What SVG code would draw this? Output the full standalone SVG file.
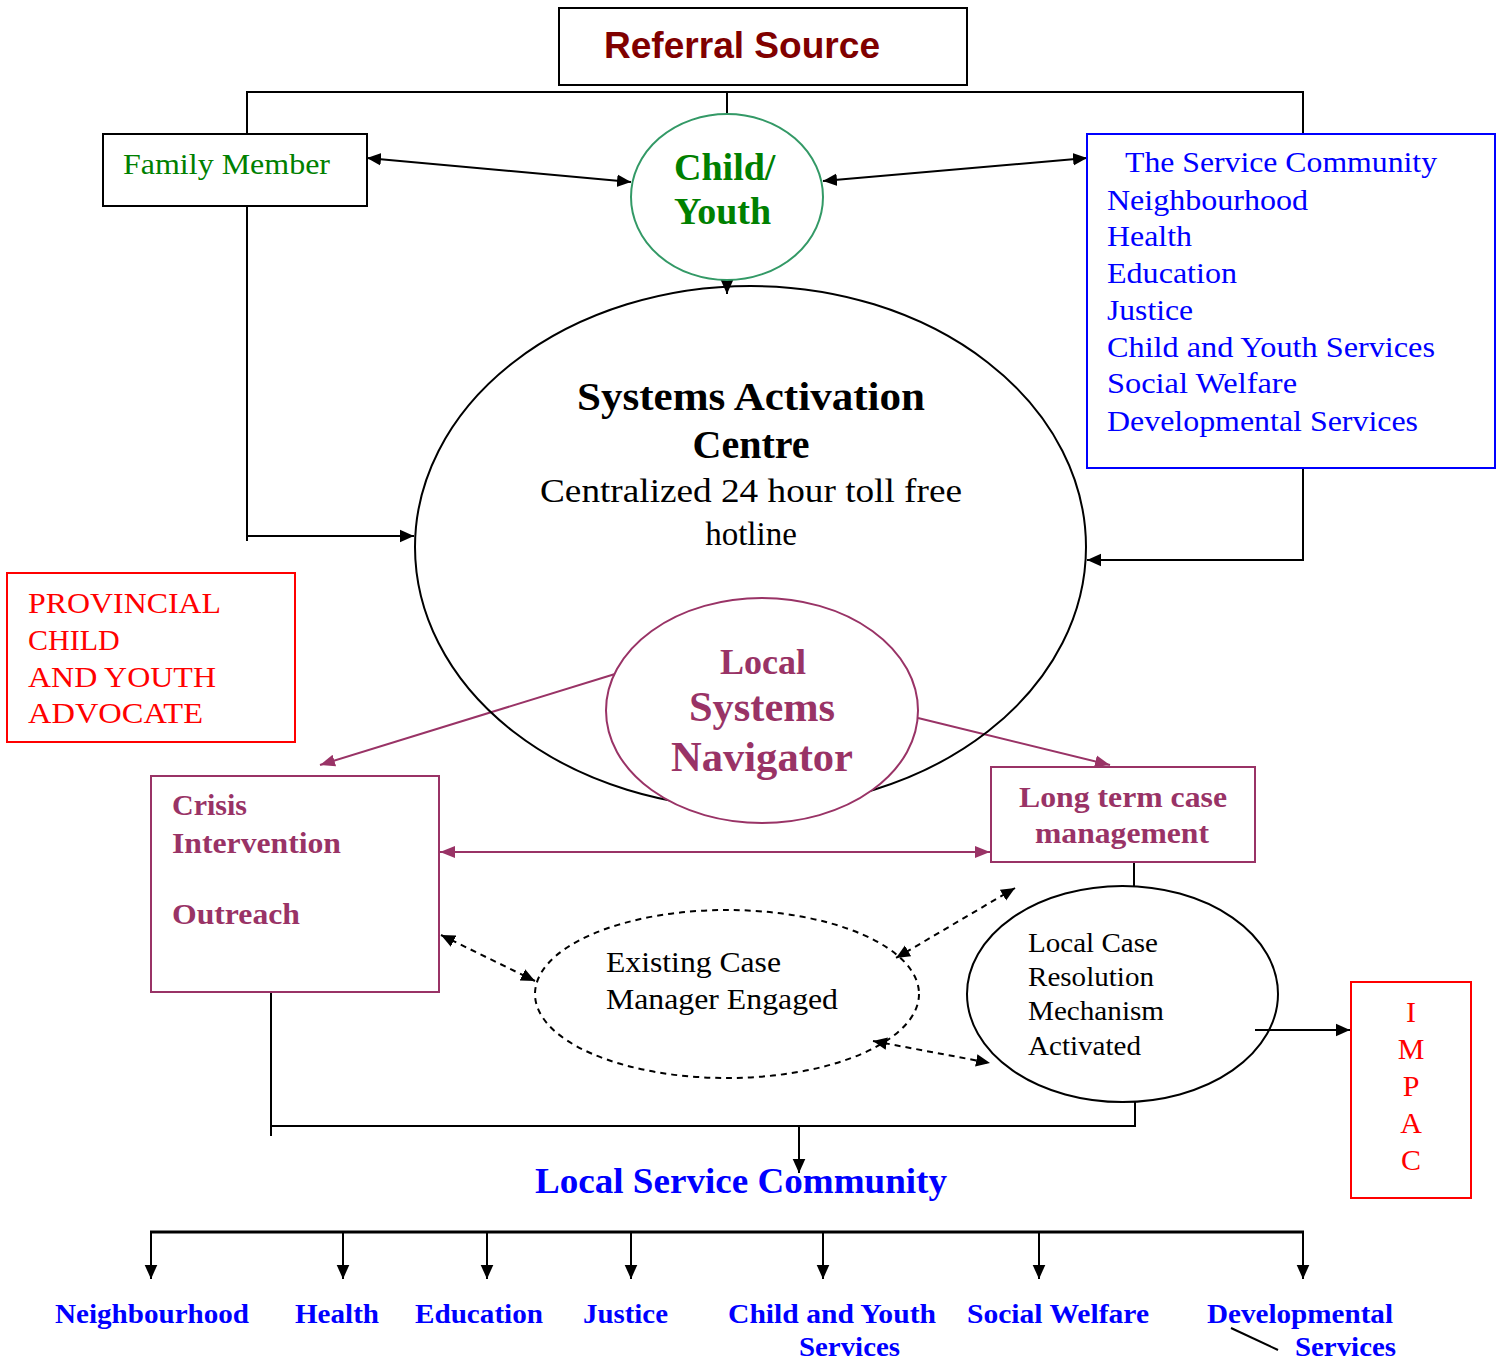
<svg xmlns="http://www.w3.org/2000/svg" width="1502" height="1361" viewBox="0 0 1502 1361">
<defs>
<marker id="ak" viewBox="0 0 10 10" refX="10" refY="5" markerWidth="14" markerHeight="14" markerUnits="userSpaceOnUse" orient="auto-start-reverse"><path d="M0,0.5 L10,5 L0,9.5 z" fill="#000"/></marker>
<marker id="ap" viewBox="0 0 10 10" refX="10" refY="5" markerWidth="15" markerHeight="15" markerUnits="userSpaceOnUse" orient="auto-start-reverse"><path d="M0,1 L10,5 L0,9 z" fill="#993366"/></marker>
<style>
.s{font-family:"Liberation Serif","Times New Roman",serif}
.b{font-weight:bold}
.blk{fill:#000}
.grn{fill:#008000}
.blu{fill:#0000ff}
.red{fill:#ff0000}
.pur{fill:#993366}
.ln{fill:none;stroke:#000;stroke-width:2}
.lp{fill:none;stroke:#993366;stroke-width:2}
.dash{fill:none;stroke:#000;stroke-width:2;stroke-dasharray:6,5}
</style>
</defs>
<rect width="1502" height="1361" fill="#fff"/>

<g id="connectors">
<polyline class="ln" points="247,140 247,92 1303,92 1303,140"/>
<line class="ln" x1="727" y1="92" x2="727" y2="123"/>
<line class="ln" x1="727" y1="272" x2="727" y2="294" marker-end="url(#ak)"/>
<line class="ln" x1="367" y1="158" x2="631" y2="182" marker-start="url(#ak)" marker-end="url(#ak)"/>
<line class="ln" x1="823" y1="181" x2="1087" y2="158" marker-start="url(#ak)" marker-end="url(#ak)"/>
<polyline class="ln" points="247,206 247,541"/>
<line class="ln" x1="246" y1="536" x2="414" y2="536" marker-end="url(#ak)"/>
<polyline class="ln" points="1303,465 1303,560 1087,560" marker-end="url(#ak)"/>
<line class="lp" x1="615" y1="674" x2="320" y2="765" marker-end="url(#ap)"/>
<line class="lp" x1="918" y1="718" x2="1110" y2="765" marker-end="url(#ap)"/>
<line class="lp" x1="440" y1="852" x2="990" y2="852" marker-start="url(#ap)" marker-end="url(#ap)"/>
<line class="ln" x1="1134" y1="862" x2="1134" y2="887"/>
<line class="dash" x1="441" y1="935" x2="535" y2="981" marker-start="url(#ak)" marker-end="url(#ak)"/>
<line class="dash" x1="1015" y1="888" x2="896" y2="958" marker-start="url(#ak)" marker-end="url(#ak)"/>
<line class="dash" x1="873" y1="1041" x2="990" y2="1063" marker-start="url(#ak)" marker-end="url(#ak)"/>
<line class="ln" x1="1255" y1="1030" x2="1350" y2="1030" marker-end="url(#ak)"/>
<polyline class="ln" points="271,992 271,1136"/>
<polyline class="ln" points="271,1126 1135,1126 1135,1102"/>
<line class="ln" x1="799" y1="1126" x2="799" y2="1173" marker-end="url(#ak)"/>
<line fill="none" stroke="#000" stroke-width="3" x1="150" y1="1232" x2="1304" y2="1232"/>
<line class="ln" x1="151" y1="1232" x2="151" y2="1279" marker-end="url(#ak)"/>
<line class="ln" x1="343" y1="1232" x2="343" y2="1279" marker-end="url(#ak)"/>
<line class="ln" x1="487" y1="1232" x2="487" y2="1279" marker-end="url(#ak)"/>
<line class="ln" x1="631" y1="1232" x2="631" y2="1279" marker-end="url(#ak)"/>
<line class="ln" x1="823" y1="1232" x2="823" y2="1279" marker-end="url(#ak)"/>
<line class="ln" x1="1039" y1="1232" x2="1039" y2="1279" marker-end="url(#ak)"/>
<line class="ln" x1="1303" y1="1232" x2="1303" y2="1279" marker-end="url(#ak)"/>
<line class="ln" x1="1231" y1="1328" x2="1278" y2="1350"/>
</g>

<g id="referral">
<rect x="559" y="8" width="408" height="77" fill="#fff" stroke="#000" stroke-width="2"/>
<text x="742" y="58" text-anchor="middle" font-family="Liberation Sans, Arial, sans-serif" font-weight="bold" font-size="37" fill="#800000" textLength="276" lengthAdjust="spacingAndGlyphs">Referral Source</text>
</g>

<g id="family">
<rect x="103" y="134" width="264" height="72" fill="#fff" stroke="#000" stroke-width="2"/>
<text class="s grn" x="123" y="174" font-size="30" textLength="207" lengthAdjust="spacingAndGlyphs">Family Member</text>
</g>

<g id="child">
<ellipse cx="727" cy="197" rx="96" ry="83" fill="#fff" stroke="#339966" stroke-width="2"/>
<text class="s b grn" font-size="38"><tspan x="674" y="180">Child/</tspan><tspan x="674" y="224">Youth</tspan></text>
</g>

<g id="service">
<rect x="1087" y="134" width="408" height="334" fill="#fff" stroke="#0000ff" stroke-width="2"/>
<g class="s blu" font-size="30">
<text x="1125" y="172" textLength="312" lengthAdjust="spacingAndGlyphs">The Service Community</text>
<text x="1107" y="210" textLength="201" lengthAdjust="spacingAndGlyphs">Neighbourhood</text>
<text x="1107" y="246" textLength="85" lengthAdjust="spacingAndGlyphs">Health</text>
<text x="1107" y="283" textLength="130" lengthAdjust="spacingAndGlyphs">Education</text>
<text x="1107" y="320" textLength="86" lengthAdjust="spacingAndGlyphs">Justice</text>
<text x="1107" y="357" textLength="328" lengthAdjust="spacingAndGlyphs">Child and Youth Services</text>
<text x="1107" y="393" textLength="190" lengthAdjust="spacingAndGlyphs">Social Welfare</text>
<text x="1107" y="431" textLength="311" lengthAdjust="spacingAndGlyphs">Developmental Services</text>
</g>
</g>

<g id="sac">
<ellipse cx="750.5" cy="547" rx="335.5" ry="261" fill="none" stroke="#000" stroke-width="2"/>
<text class="s b blk" x="751" y="410" text-anchor="middle" font-size="40" textLength="348" lengthAdjust="spacingAndGlyphs">Systems Activation</text>
<text class="s b blk" x="751" y="458" text-anchor="middle" font-size="40">Centre</text>
<text class="s blk" x="751" y="502" text-anchor="middle" font-size="33" textLength="422" lengthAdjust="spacingAndGlyphs">Centralized 24 hour toll free</text>
<text class="s blk" x="751" y="545" text-anchor="middle" font-size="33">hotline</text>
</g>

<g id="navigator">
<ellipse cx="762" cy="710.5" rx="156" ry="112.5" fill="#fff" stroke="#993366" stroke-width="2"/>
<text class="s b pur" x="763" y="674" text-anchor="middle" font-size="36">Local</text>
<text class="s b pur" x="762" y="721" text-anchor="middle" font-size="42" textLength="146" lengthAdjust="spacingAndGlyphs">Systems</text>
<text class="s b pur" x="762" y="771" text-anchor="middle" font-size="42" textLength="182" lengthAdjust="spacingAndGlyphs">Navigator</text>
</g>

<g id="advocate">
<rect x="7" y="573" width="288" height="169" fill="#fff" stroke="#ff0000" stroke-width="2"/>
<g class="s red" font-size="30">
<text x="28" y="613" textLength="193" lengthAdjust="spacingAndGlyphs">PROVINCIAL</text>
<text x="28" y="650">CHILD</text>
<text x="28" y="687" textLength="188" lengthAdjust="spacingAndGlyphs">AND YOUTH</text>
<text x="28" y="723" textLength="175" lengthAdjust="spacingAndGlyphs">ADVOCATE</text>
</g>
</g>

<g id="crisis">
<rect x="151" y="776" width="288" height="216" fill="#fff" stroke="#993366" stroke-width="2"/>
<g class="s b pur" font-size="30">
<text x="172" y="815">Crisis</text>
<text x="172" y="853" textLength="169" lengthAdjust="spacingAndGlyphs">Intervention</text>
<text x="172" y="924" textLength="128" lengthAdjust="spacingAndGlyphs">Outreach</text>
</g>
</g>

<g id="longterm">
<rect x="991" y="767" width="264" height="95" fill="#fff" stroke="#993366" stroke-width="2"/>
<text class="s b pur" x="1123" y="807" text-anchor="middle" font-size="30" textLength="208" lengthAdjust="spacingAndGlyphs">Long term case</text>
<text class="s b pur" x="1122" y="843" text-anchor="middle" font-size="30" textLength="174" lengthAdjust="spacingAndGlyphs">management</text>
</g>

<g id="existing">
<ellipse cx="727" cy="994" rx="192" ry="84" fill="none" stroke="#000" stroke-width="2" stroke-dasharray="6,5"/>
<text class="s blk" x="606" y="972" font-size="29" textLength="175" lengthAdjust="spacingAndGlyphs">Existing Case</text>
<text class="s blk" x="606" y="1009" font-size="29" textLength="232" lengthAdjust="spacingAndGlyphs">Manager Engaged</text>
</g>

<g id="resolution">
<ellipse cx="1122.5" cy="994" rx="155.5" ry="108" fill="none" stroke="#000" stroke-width="2"/>
<g class="s blk" font-size="28">
<text x="1028" y="952" textLength="130" lengthAdjust="spacingAndGlyphs">Local Case</text>
<text x="1028" y="986" textLength="126" lengthAdjust="spacingAndGlyphs">Resolution</text>
<text x="1028" y="1020" textLength="136" lengthAdjust="spacingAndGlyphs">Mechanism</text>
<text x="1028" y="1055" textLength="113" lengthAdjust="spacingAndGlyphs">Activated</text>
</g>
</g>

<g id="impac">
<rect x="1351" y="982" width="120" height="216" fill="#fff" stroke="#ff0000" stroke-width="2"/>
<g class="s red" font-size="30" text-anchor="middle">
<text x="1411" y="1022">I</text>
<text x="1411" y="1059">M</text>
<text x="1411" y="1096">P</text>
<text x="1411" y="1133">A</text>
<text x="1411" y="1170">C</text>
</g>
</g>

<g id="localservice">
<text class="s b blu" x="741" y="1193" text-anchor="middle" font-size="36" textLength="412" lengthAdjust="spacingAndGlyphs">Local Service Community</text>
</g>

<g id="bottom-labels" class="s b blu" font-size="28">
<text x="55" y="1323" textLength="194" lengthAdjust="spacingAndGlyphs">Neighbourhood</text>
<text x="295" y="1323" textLength="84" lengthAdjust="spacingAndGlyphs">Health</text>
<text x="415" y="1323" textLength="128" lengthAdjust="spacingAndGlyphs">Education</text>
<text x="583" y="1323" textLength="85" lengthAdjust="spacingAndGlyphs">Justice</text>
<text x="728" y="1323" textLength="208" lengthAdjust="spacingAndGlyphs">Child and Youth</text>
<text x="799" y="1356" textLength="101" lengthAdjust="spacingAndGlyphs">Services</text>
<text x="967" y="1323" textLength="182" lengthAdjust="spacingAndGlyphs">Social Welfare</text>
<text x="1207" y="1323" textLength="186" lengthAdjust="spacingAndGlyphs">Developmental</text>
<text x="1295" y="1356" textLength="101" lengthAdjust="spacingAndGlyphs">Services</text>
</g>
</svg>
